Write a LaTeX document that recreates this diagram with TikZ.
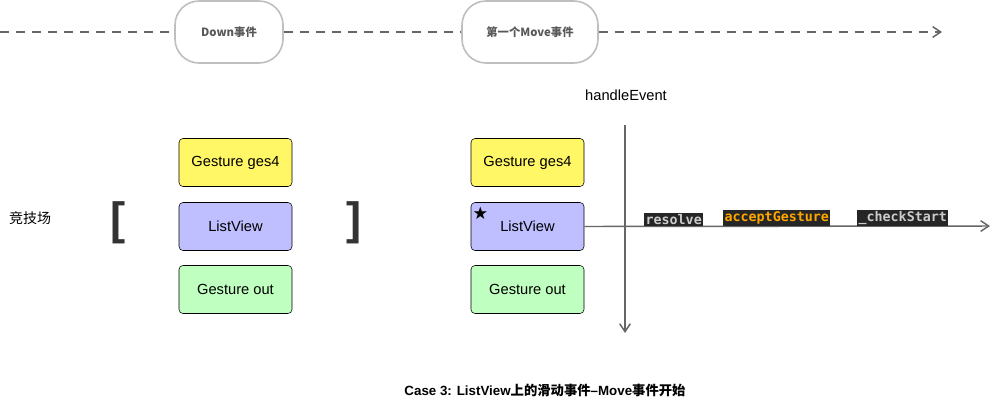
\documentclass[tikz,border=0pt]{standalone}
\usepackage{fontspec}
\setmainfont{Liberation Sans}
\setmonofont{DejaVu Sans Mono}
\newfontfamily\cjk{Noto Sans CJK SC}
\newfontfamily\sym{DejaVu Sans}
\usetikzlibrary{arrows.meta}
\begin{document}
\begin{tikzpicture}[x=0.75pt,y=-0.75pt,
  pill/.style={draw=gray!50,line width=1.2pt,rounded corners=18pt,fill=white,font=\cjk\bfseries\fontsize{8.5}{10}\selectfont,text=black!65},
  box/.style={draw=black,rounded corners=3pt,minimum width=84.75pt,minimum height=36pt,font=\fontsize{11}{13}\selectfont},
  gline/.style={draw=black!60,line width=1.1pt},
  arr/.style={-{Straight Barb[length=6pt,width=8pt]}},
  code/.style={fill=black!85,inner sep=1pt,font=\ttfamily\bfseries\fontsize{10}{12}\selectfont}]
\useasboundingbox (0,0) rectangle (996,408);
\fill[white] (0,0) rectangle (996,408);
\coordinate (l0) at (0,32);
\coordinate (le) at (942,32);
\node[pill,minimum width=81pt,minimum height=46.5pt] (down) at (229,32) {Down{\cjk 事件}};
\node[pill,minimum width=102pt,minimum height=46.5pt] (move) at (530,32) {{\cjk 第一个}Move{\cjk 事件}};
\draw[gline,dash pattern=on 7pt off 5pt] (l0) -- (down.west);
\draw[gline,dash pattern=on 7pt off 5pt] (down.east) -- (move.west);
\draw[gline,dash pattern=on 7pt off 5pt,arr] (move.east) -- (le);
\node[font=\fontsize{11}{13}\selectfont] (he) at (626,95) {handleEvent};
\coordinate (vt) at (625,125);
\coordinate (vb) at (625,333);
\draw[gline,arr] (vt) -- (vb);
\node[box,fill=yellow!60] (g1) at (235.5,162.5) {Gesture ges4};
\node[box,fill=blue!25] (l1) at (235.5,226.5) {ListView};
\node[box,fill=green!25] (o1) at (235.5,289.5) {Gesture out};
\node[box,fill=yellow!60] (g2) at (527.5,162.5) {Gesture ges4};
\node[box,fill=blue!25] (l2) at (527.5,226.5) {ListView};
\node[box,fill=green!25] (o2) at (527.5,289.5) {Gesture out};
\node[font=\sym\fontsize{13}{13}\selectfont,inner sep=0] (star) at (480.5,213) {★};
\node[font=\cjk\fontsize{10.5}{12}\selectfont] (arena) at (30,218) {竞技场};
\node[font=\bfseries\fontsize{34}{34}\selectfont,text=black!80] (lb) at (118,223) {[};
\node[font=\bfseries\fontsize{34}{34}\selectfont,text=black!80] (rb) at (354,223) {]};
\coordinate (he2) at (990,226);
\draw[gline,arr] (l2.east) -- (he2);
\node[code,text=gray!40,anchor=south west] (c1) at (644,226) {resolve};
\node[code,text=orange!70!yellow,anchor=south west] (c2) at (723,226) {acceptGesture};
\node[code,text=gray!40,anchor=south west] (c3) at (857,226) {\_checkStart};
\node[font=\cjk\bfseries\fontsize{10}{12}\selectfont] (title) at (545,390) {{\rmfamily\bfseries Case 3: ListView}上的滑动事件{\rmfamily\bfseries --Move}事件开始};
\end{tikzpicture}
\end{document}
